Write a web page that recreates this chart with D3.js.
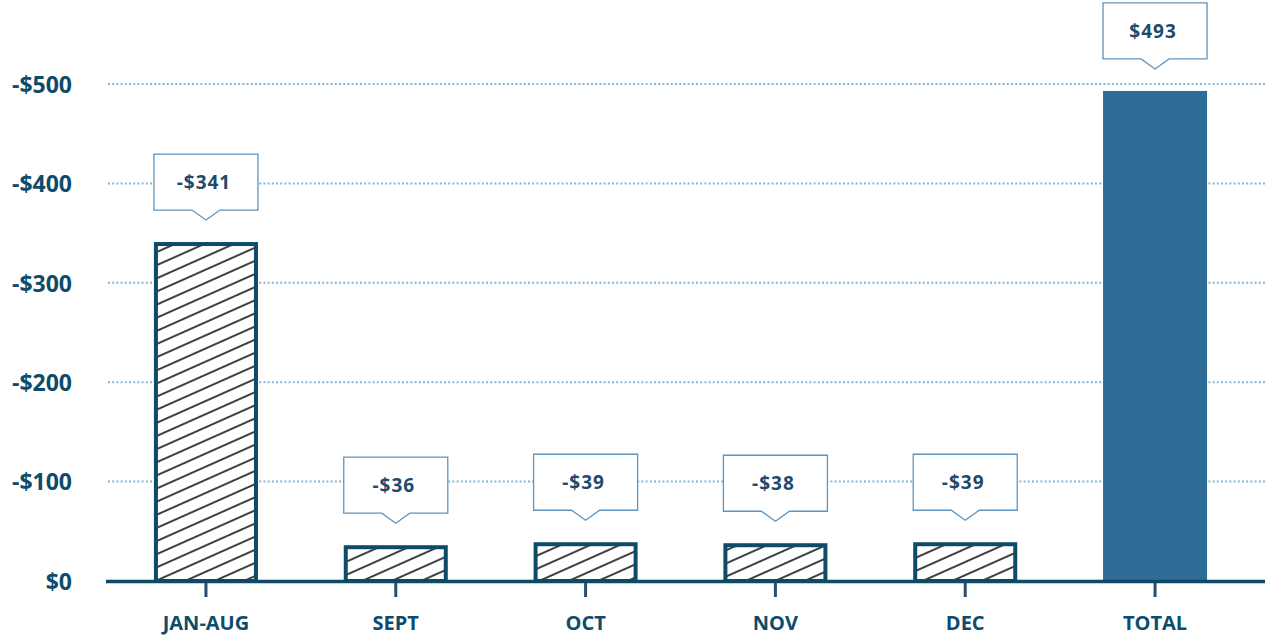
<!DOCTYPE html>
<html>
<head>
<meta charset="utf-8">
<script src="https://cdn.jsdelivr.net/npm/d3@7/dist/d3.min.js"></script>
<style>
  html, body { margin: 0; padding: 0; background: #fff; }
  svg { display: block; }
</style>
</head>
<body>
<svg id="chart" width="1265" height="637"></svg>
<script>
// Monthly amounts and the yearly total
const categories = ["JAN-AUG", "SEPT", "OCT", "NOV", "DEC", "TOTAL"];
const amounts = [341, 36, 39, 38, 39, 493];
const valueLabels = ["-$341", "-$36", "-$39", "-$38", "-$39", "$493"];
const isTotal = [false, false, false, false, false, true];
const yTicks = [0, 100, 200, 300, 400, 500];
const yTickLabels = ["$0", "-$100", "-$200", "-$300", "-$400", "-$500"];

const W = 1265, H = 637;
const svg = d3.select("#chart");

const ink = "#0e4c6c";
const fontFamily = "'Open Sans', 'Noto Sans', sans-serif";

const x = d3.scaleBand()
  .domain(categories)
  .range([108, 1253])
  .paddingInner(0.452)
  .paddingOuter(0.242);

const y = d3.scaleLinear()
  .domain([0, 500])
  .range([581, 84]);

// Diagonal hatch fill for the monthly bars
const defs = svg.append("defs");
const pat = defs.append("pattern")
  .attr("id", "hatch")
  .attr("patternUnits", "userSpaceOnUse")
  .attr("width", 12)
  .attr("height", 12)
  .attr("patternTransform", "rotate(-24)");
pat.append("rect").attr("width", 12).attr("height", 12).attr("fill", "#fff");
pat.append("line")
  .attr("x1", 0).attr("x2", 12)
  .attr("y1", 6).attr("y2", 6)
  .attr("stroke", "#111")
  .attr("stroke-width", 1.6);

// Dotted horizontal gridlines
svg.append("g")
  .selectAll("line")
  .data(yTicks.filter(d => d !== 0))
  .join("line")
  .attr("x1", 108)
  .attr("x2", W)
  .attr("y1", d => y(d))
  .attr("y2", d => y(d))
  .attr("stroke", "#80b6db")
  .attr("stroke-width", 2)
  .attr("stroke-dasharray", "2 2.2");

// Y axis labels
const yAxis = d3.axisLeft(y)
  .tickValues(yTicks)
  .tickFormat((d, i) => yTickLabels[i])
  .tickSize(0)
  .tickPadding(0);
const yg = svg.append("g")
  .attr("transform", "translate(72,0)")
  .call(yAxis);
yg.select(".domain").remove();
yg.selectAll("text")
  .attr("fill", ink)
  .attr("font-family", fontFamily)
  .attr("font-weight", 700)
  .attr("font-size", 23)
  .attr("dy", "0.36em");

// Bars
const bars = svg.append("g");
categories.forEach((c, i) => {
  const x0 = x(c), bw = x.bandwidth();
  const top = y(amounts[i]);
  if (isTotal[i]) {
    bars.append("rect")
      .attr("x", x0)
      .attr("y", top)
      .attr("width", bw)
      .attr("height", y(0) - top)
      .attr("fill", "#2f6d96");
  } else {
    bars.append("rect")
      .attr("x", x0 + 2)
      .attr("y", top + 2)
      .attr("width", bw - 4)
      .attr("height", y(0) - top - 2)
      .attr("fill", "url(#hatch)")
      .attr("stroke", "#0d4b69")
      .attr("stroke-width", 4);
  }
});

// Baseline axis with tick marks and category labels
const xAxis = d3.axisBottom(x).tickSize(0).tickPadding(0);
const xg = svg.append("g")
  .attr("transform", `translate(0,${y(0)})`)
  .call(xAxis);
xg.select(".domain").remove();
xg.selectAll("text")
  .attr("fill", ink)
  .attr("font-family", fontFamily)
  .attr("font-weight", 700)
  .attr("font-size", 20)
  .attr("dy", 0)
  .attr("y", 49);

svg.append("line")
  .attr("x1", 106)
  .attr("x2", W)
  .attr("y1", y(0) + 0.5)
  .attr("y2", y(0) + 0.5)
  .attr("stroke", "#0c4a68")
  .attr("stroke-width", 3.5);

svg.append("g")
  .selectAll("line")
  .data(categories)
  .join("line")
  .attr("x1", d => x(d) + x.bandwidth() / 2)
  .attr("x2", d => x(d) + x.bandwidth() / 2)
  .attr("y1", y(0) + 2)
  .attr("y2", y(0) + 16)
  .attr("stroke", "#2d4d6d")
  .attr("stroke-width", 3);

// Value callouts above each bar
const boxH = 56, tipH = 10, tipHalf = 14, gap = 22;
const callouts = svg.append("g");
categories.forEach((c, i) => {
  const x0 = x(c), bw = x.bandwidth();
  const cx = x0 + bw / 2;
  const tipY = y(amounts[i]) - gap;
  const bottom = tipY - tipH;
  const top = bottom - boxH;
  const path = d3.path();
  path.moveTo(x0, top);
  path.lineTo(x0 + bw, top);
  path.lineTo(x0 + bw, bottom);
  path.lineTo(cx + tipHalf, bottom);
  path.lineTo(cx, tipY);
  path.lineTo(cx - tipHalf, bottom);
  path.lineTo(x0, bottom);
  path.closePath();
  callouts.append("path")
    .attr("d", path.toString())
    .attr("fill", "#fff")
    .attr("stroke", "#5f94bf")
    .attr("stroke-width", 1.3);
  callouts.append("text")
    .attr("x", cx - 2)
    .attr("y", (top + bottom) / 2)
    .attr("dy", "0.36em")
    .attr("text-anchor", "middle")
    .attr("fill", "#1f4a6a")
    .attr("font-family", fontFamily)
    .attr("font-weight", 700)
    .attr("font-size", 19)
    .attr("letter-spacing", 1)
    .text(valueLabels[i]);
});
</script>
</body>
</html>
